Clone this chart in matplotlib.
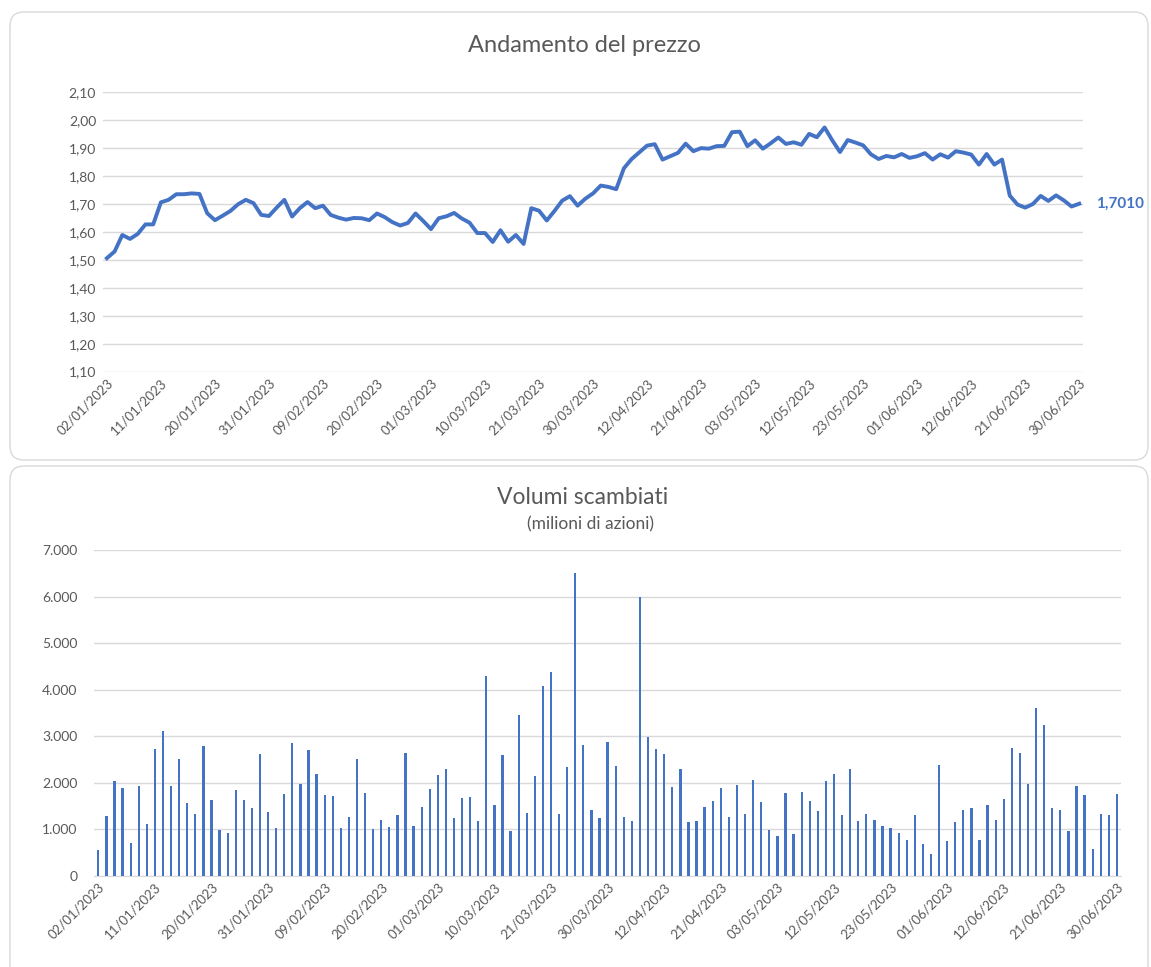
import numpy as np
import pandas as pd
import matplotlib
matplotlib.use("Agg")
import matplotlib.pyplot as plt
from matplotlib.patches import FancyBboxPatch
from matplotlib.transforms import IdentityTransform
from matplotlib.ticker import FuncFormatter

plt.rcParams['font.family'] = ['Lato', 'DejaVu Sans']

# trading days of Borsa Italiana, first half of 2023
HOLIDAYS = ["2023-04-07", "2023-04-10", "2023-05-01"]
days = pd.bdate_range("2023-01-02", "2023-06-30")
days = days[~days.isin(pd.to_datetime(HOLIDAYS))]
date_labels = [d.strftime("%d/%m/%Y") for d in days]

# closing price (euro)
price = [1.506, 1.530, 1.589, 1.575, 1.593, 1.627, 1.627, 1.706, 1.715, 1.735,
         1.735, 1.738, 1.736, 1.667, 1.642, 1.658, 1.675, 1.699, 1.715, 1.703,
         1.661, 1.657, 1.687, 1.715, 1.655, 1.685, 1.707, 1.685, 1.694, 1.661,
         1.651, 1.644, 1.650, 1.649, 1.642, 1.666, 1.653, 1.635, 1.623, 1.632,
         1.666, 1.639, 1.610, 1.649, 1.656, 1.668, 1.648, 1.633, 1.596, 1.596,
         1.564, 1.606, 1.565, 1.589, 1.557, 1.685, 1.676, 1.641, 1.675, 1.712,
         1.728, 1.694, 1.719, 1.738, 1.766, 1.761, 1.753, 1.828, 1.861, 1.885,
         1.909, 1.914, 1.859, 1.871, 1.883, 1.916, 1.889, 1.900, 1.898, 1.907,
         1.908, 1.957, 1.959, 1.907, 1.928, 1.898, 1.917, 1.938, 1.915, 1.921,
         1.912, 1.951, 1.939, 1.974, 1.928, 1.886, 1.929, 1.920, 1.910, 1.878,
         1.861, 1.872, 1.867, 1.879, 1.865, 1.871, 1.882, 1.859, 1.878, 1.866,
         1.889, 1.884, 1.877, 1.841, 1.879, 1.841, 1.859, 1.730, 1.698, 1.687,
         1.700, 1.729, 1.711, 1.731, 1.713, 1.691, 1.701]
last_price_label = "1,7010"

# traded volumes
volume = [560, 1281, 2033, 1883, 709, 1933, 1110, 2734, 3114, 1926,
          2513, 1575, 1339, 2792, 1639, 988, 923, 1840, 1639, 1453,
          2627, 1367, 1024, 1761, 2863, 1976, 2706, 2190, 1747, 1718,
          1031, 1274, 2513, 1775, 1002, 1195, 1052, 1303, 2641, 1081,
          1482, 1868, 2169, 2291, 1246, 1668, 1689, 1181, 4288, 1518,
          2598, 966, 3457, 1346, 2140, 4080, 4381, 1331, 2334, 6500,
          2820, 1410, 1246, 2870, 2369, 1274, 1174, 5999, 2992, 2727,
          2613, 1911, 2291, 1160, 1181, 1475, 1611, 1883, 1274, 1954,
          1339, 2069, 1596, 981, 866, 1775, 909, 1797, 1603, 1403,
          2040, 2190, 1303, 2291, 1181, 1324, 1195, 1081, 1038, 923,
          766, 1303, 680, 472, 2391, 744, 1160, 1424, 1467, 766,
          1532, 1210, 1646, 2749, 2641, 1983, 3615, 3250, 1453, 1410,
          959, 1933, 1732, 580, 1324, 1303, 1754]

BLUE = "#4472C4"
GRID = "#d9d9d9"
TEXT = "#595959"

fig = plt.figure(figsize=(11.51, 9.67), dpi=100)

# rounded frames around the two charts (pixels), kept behind the axes
for x0, y0, w, h in [(10, 507, 1138, 448), (10, -20, 1138, 521)]:
    fig.add_artist(FancyBboxPatch((x0, y0), w, h,
                                  boxstyle="round,pad=0,rounding_size=14",
                                  transform=IdentityTransform(), zorder=-10,
                                  facecolor="white", edgecolor=GRID, lw=1))

x = np.arange(len(days))
tick_idx = x[::7]


def style_axis(a, pad):
    a.patch.set_visible(False)
    for s in a.spines.values():
        s.set_visible(False)
    a.grid(axis="y", color=GRID, lw=1)
    a.set_axisbelow(True)
    a.tick_params(length=0, colors=TEXT, labelsize=10)
    a.tick_params(axis="y", pad=pad)
    a.set_xlim(-0.5, len(days) - 0.5)
    a.set_xticks(tick_idx)
    a.set_xticklabels([date_labels[i] for i in tick_idx], rotation=45,
                      ha="right", va="top", rotation_mode="anchor", fontsize=9.5)


# price chart
ax1 = fig.add_axes([0.0895, 0.6157, 0.8515, 0.2889])
style_axis(ax1, 5)
ax1.plot(x, price, color=BLUE, lw=2.8, solid_joinstyle="round")
ax1.set_ylim(1.10, 2.10)
ax1.set_yticks(np.arange(1.10, 2.11, 0.10))
ax1.yaxis.set_major_formatter(FuncFormatter(lambda v, p: f"{v:.2f}".replace(".", ",")))
ax1.annotate(last_price_label, xy=(x[-1], price[-1]), xytext=(12, 0),
             textcoords="offset points", va="center", ha="left",
             color=BLUE, fontsize=11, fontweight="bold")
fig.text(0.508, 0.953, "Andamento del prezzo", ha="center", va="center",
         fontsize=17, color=TEXT)

# volume chart
ax2 = fig.add_axes([0.0819, 0.0941, 0.892, 0.3371])
style_axis(ax2, 12)
ax2.bar(x, volume, width=0.28, color=BLUE)
ax2.set_ylim(0, 7000)
ax2.set_yticks(np.arange(0, 7001, 1000))
ax2.yaxis.set_major_formatter(FuncFormatter(lambda v, p: f"{int(v):,}".replace(",", ".")))
ax2.spines["bottom"].set_visible(True)
ax2.spines["bottom"].set_color(GRID)
fig.text(0.506, 0.486, "Volumi scambiati", ha="center", va="center",
         fontsize=16.5, color=TEXT)
fig.text(0.513, 0.458, "(milioni di azioni)", ha="center", va="center",
         fontsize=12.5, color=TEXT)

fig.savefig("out.png", dpi=100)
